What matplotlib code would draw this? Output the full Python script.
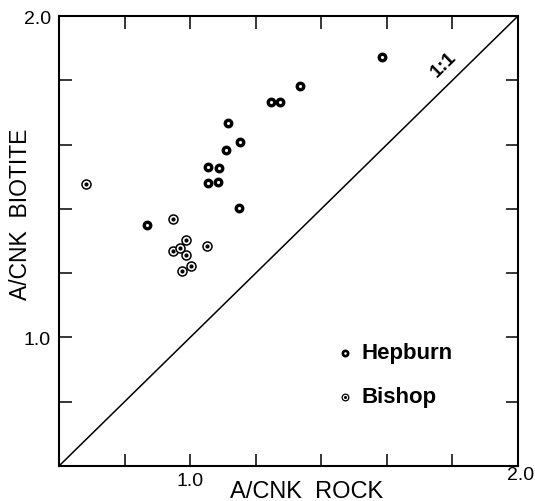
import matplotlib
matplotlib.use("Agg")
import matplotlib.pyplot as plt
import matplotlib.transforms as mtransforms

plt.rcParams['font.family'] = ['Liberation Sans', 'DejaVu Sans']

hep_x = [0.868, 1.053, 1.088, 1.053, 1.086, 1.110, 1.114, 1.151, 1.149, 1.246, 1.274, 1.334, 1.584]
hep_y = [1.350, 1.529, 1.526, 1.480, 1.483, 1.582, 1.667, 1.607, 1.403, 1.731, 1.731, 1.781, 1.874]

bis_x = [0.682, 0.949, 0.987, 0.948, 0.970, 0.987, 1.002, 0.975, 1.051]
bis_y = [1.476, 1.367, 1.303, 1.268, 1.278, 1.258, 1.223, 1.208, 1.283]

xticks = [0.6, 0.8, 1.0, 1.2, 1.4, 1.6, 1.8, 2.0]
yticks = [0.6, 0.8, 1.0, 1.2, 1.4, 1.6, 1.8, 2.0]
xticklabels = ['', '', '1.0', '', '', '', '', '2.0']
yticklabels = ['', '', '1.0', '', '', '', '', '2.0']

fig = plt.figure(figsize=(5.35, 5.02), dpi=100)
ax = fig.add_axes([59/535, 35/502, 459/535, 450/502])
ax.set_xlim(0.6, 2.0)
ax.set_ylim(0.6, 2.0)

# 1:1 line
ax.plot([0.6, 2.0], [0.6, 2.0], color='black', lw=1.1)
ax.text(1.774, 1.851, '1:1', rotation=44.5, ha='center', va='center',
        fontsize=14, fontweight='bold')

# Hepburn
ax.plot(hep_x, hep_y, linestyle='none', marker='o', ms=4.7, mfc='white',
        mec='black', mew=2.4)
# Bishop
ax.plot(bis_x, bis_y, linestyle='none', marker='o', ms=6.5, mfc='white',
        mec='black', mew=1.1)
ax.plot(bis_x, bis_y, linestyle='none', marker='o', ms=3.0, mfc='black',
        mec='black', mew=0)

# legend
ax.plot([1.472], [0.953], marker='o', ms=3.8, mfc='white', mec='black', mew=1.9)
ax.plot([1.472], [0.815], marker='o', ms=4.8, mfc='white', mec='black', mew=0.9)
ax.plot([1.472], [0.815], marker='o', ms=2.2, mfc='black', mec='black', mew=0)
ax.text(1.524, 0.953, 'Hepburn', fontsize=16, fontweight='bold', va='center', ha='left')
ax.text(1.524, 0.815, 'Bishop', fontsize=16, fontweight='bold', va='center', ha='left')

ax.set_xticks(xticks)
ax.set_xticklabels(xticklabels)
ax.set_yticks(yticks)
ax.set_yticklabels(yticklabels)
ax.tick_params(direction='in', length=9, width=1.1, labelsize=14,
               top=True, right=True, pad=4)
ax.tick_params(axis='y', pad=6)
for s in ax.spines.values():
    s.set_linewidth(1.5)

# nudge the "2.0" x tick label up/right like the original
lbl = ax.get_xticklabels()[-1]
lbl.set_transform(lbl.get_transform() +
                  mtransforms.ScaledTranslation(3/100, 6/100, fig.dpi_scale_trans))

fig.text(21/535, 1 - 214/502, 'A/CNK  BIOTITE', rotation=90, ha='center',
         va='center', fontsize=16.5)
fig.text(307/535, 1 - 492/502, 'A/CNK  ROCK', ha='center', va='center',
         fontsize=17)

fig.savefig('out.png', dpi=100)
